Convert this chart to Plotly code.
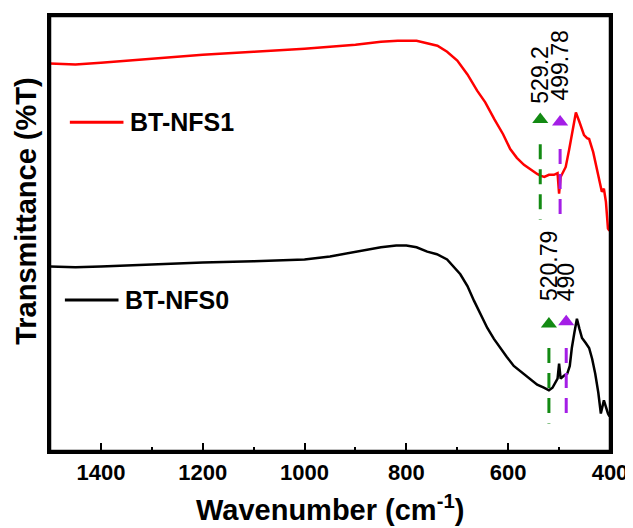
import plotly.graph_objects as go

# ---------------- data ----------------
wn_nfs1 = [1500, 1450, 1400, 1300, 1200, 1100, 1000, 900, 850, 817, 780, 739, 720, 700, 680,
           661, 645, 627, 610, 596, 583, 569, 555, 543, 537, 529, 520, 510, 503, 500, 497,
           494, 487, 480, 473, 467, 460, 451, 445, 441, 433, 425, 416, 412, 408, 404, 401]
t_nfs1 = [89.3, 89.1, 89.5, 90.4, 91.3, 92.0, 92.7, 93.6, 94.3, 94.5, 94.5, 93.4, 92.0, 90.0, 86.8,
          83.1, 80.4, 76.5, 73.1, 69.7, 67.7, 66.1, 64.9, 64.0, 63.6, 63.3, 63.8, 63.8, 64.2, 59.5, 63.3,
          64.0, 65.6, 69.7, 74.0, 78.1, 75.9, 72.9, 72.2, 72.0, 69.0, 64.5, 59.9, 60.6, 57.6, 51.5, 51.0]

wn_nfs0 = [1500, 1450, 1400, 1300, 1200, 1100, 1000, 950, 900, 850, 820, 800, 780, 759, 740,
           720, 694, 680, 667, 654, 641, 628, 616, 603, 589, 573, 557, 543, 530, 520, 513,
           508, 503, 500, 497, 490, 484, 479, 475, 470, 465, 460, 455, 448, 441, 435, 429,
           423, 418, 412, 408, 404, 401]
t_nfs0 = [42.8, 42.6, 42.8, 43.3, 43.7, 44.0, 44.4, 45.1, 46.2, 47.2, 47.6, 47.6, 47.2, 46.2, 45.6,
          44.4, 41.0, 38.3, 34.9, 31.7, 28.7, 26.2, 24.1, 22.1, 20.0, 18.5, 17.1, 15.7, 15.0, 14.4, 15.0,
          16.2, 17.1, 20.5, 17.1, 17.8, 18.2, 20.0, 24.1, 27.6, 30.8, 28.5, 26.4, 25.3, 24.1, 21.6, 18.2,
          13.9, 9.1, 12.1, 10.3, 9.1, 8.4]

series_names = ["BT-NFS1", "BT-NFS0"]

# peak markers: position, label, dashed-line span, arrow height, label base
peak_x_nfs1 = [537, 498]
peak_lbl_nfs1 = ["529.2", "499.78"]
peak_top_nfs1 = [70.8, 69.7]
peak_bot_nfs1 = [53.5, 52.6]
peak_tri_nfs1 = [76.5, 75.9]
peak_txt_nfs1 = [79.7, 80.4]

peak_x_nfs0 = [520, 486]
peak_lbl_nfs0 = ["520.79", "490"]
peak_top_nfs0 = [24.1, 24.1]
peak_bot_nfs0 = [6.8, 7.1]
peak_tri_nfs0 = [29.6, 30.1]
peak_txt_nfs0 = [34.4, 34.4]

peak_colors = ["#138a13", "#a41ee6"]

x_ticks = [1400, 1200, 1000, 800, 600, 400]

FONT = "Liberation Sans, Arial, sans-serif"

fig = go.Figure()
fig.add_trace(go.Scatter(x=wn_nfs1, y=t_nfs1, mode="lines", name=series_names[0],
                         line=dict(color="#ff0000", width=2.5), showlegend=False))
fig.add_trace(go.Scatter(x=wn_nfs0, y=t_nfs0, mode="lines", name=series_names[1],
                         line=dict(color="#000000", width=2.5), showlegend=False))

annotations = []
for xs, lbls, tops, bots, tris, txts in [
        (peak_x_nfs1, peak_lbl_nfs1, peak_top_nfs1, peak_bot_nfs1, peak_tri_nfs1, peak_txt_nfs1),
        (peak_x_nfs0, peak_lbl_nfs0, peak_top_nfs0, peak_bot_nfs0, peak_tri_nfs0, peak_txt_nfs0)]:
    for i in range(len(xs)):
        c = peak_colors[i]
        fig.add_trace(go.Scatter(x=[xs[i], xs[i]], y=[tops[i], bots[i]], mode="lines",
                                 line=dict(color=c, width=3, dash="15px,10px"), showlegend=False))
        fig.add_trace(go.Scatter(x=[xs[i]], y=[tris[i]], mode="markers",
                                 marker=dict(symbol="triangle-up", size=14, color=c), showlegend=False))
        annotations.append(dict(x=xs[i], y=txts[i], xref="x", yref="y", text=lbls[i],
                                textangle=-90, showarrow=False, xanchor="center", yanchor="bottom",
                                font=dict(family=FONT, size=23, color="black")))

# the page body adds an 8px offset; figure coordinates = reference pixels - 8
OFF = 8
W, H = 633 - OFF, 528 - OFF
L, R, T, B = 50 - OFF, 614 - OFF, 13 - OFF, 451 - OFF
def px(x):
    return (x - OFF - L) / (R - L)
def py(y):
    return (B - (y - OFF)) / (B - T)

shapes = [
    # plot frame
    dict(type="rect", xref="paper", yref="paper", x0=0, x1=1, y0=0, y1=1,
         line=dict(color="black", width=2.5), layer="above"),
    # legend samples
    dict(type="line", xref="paper", yref="paper", x0=px(70), x1=px(124), y0=py(120), y1=py(120),
         line=dict(color="#ff0000", width=3)),
    dict(type="line", xref="paper", yref="paper", x0=px(65), x1=px(119), y0=py(299), y1=py(299),
         line=dict(color="#000000", width=3)),
]
annotations.append(dict(x=px(129), y=py(120), xref="paper", yref="paper", text="<b>%s</b>" % series_names[0],
                        showarrow=False, xanchor="left", yanchor="middle",
                        font=dict(family=FONT, size=25, color="black")))
annotations.append(dict(x=px(124), y=py(299), xref="paper", yref="paper", text="<b>%s</b>" % series_names[1],
                        showarrow=False, xanchor="left", yanchor="middle",
                        font=dict(family=FONT, size=25, color="black")))
# y title
annotations.append(dict(x=px(25), y=py(209), xref="paper", yref="paper", text="<b>Transmittance (%T)</b>",
                        textangle=-90, showarrow=False, xanchor="center", yanchor="middle",
                        font=dict(family=FONT, size=29, color="black")))
# x title
annotations.append(dict(x=px(332), y=py(508), xref="paper", yref="paper",
                        text="<b>Wavenumber (cm<sup>-1</sup>)</b>",
                        showarrow=False, xanchor="center", yanchor="middle",
                        font=dict(family=FONT, size=29, color="black")))

fig.update_layout(
    width=W, height=H,
    margin=dict(l=L, r=W - R, t=T, b=H - B, pad=0),
    paper_bgcolor="white", plot_bgcolor="white",
    showlegend=False,
    shapes=shapes, annotations=annotations,
    xaxis=dict(range=[1500, 400], tickvals=x_ticks, ticktext=[str(v) for v in x_ticks],
               ticks="inside", ticklen=8, tickwidth=2, tickcolor="black",
               minor=dict(dtick=100, ticks="inside", ticklen=4, tickwidth=2, tickcolor="black"),
               showline=True, linecolor="black", linewidth=2.5, mirror=True,
               showgrid=False, zeroline=False,
               tickfont=dict(family=FONT, size=22, color="black", weight="bold")),
    yaxis=dict(range=[0.5, 100.2], showticklabels=False, ticks="",
               showline=True, linecolor="black", linewidth=2.5, mirror=True,
               showgrid=False, zeroline=False),
)

fig.write_html("out.html")
